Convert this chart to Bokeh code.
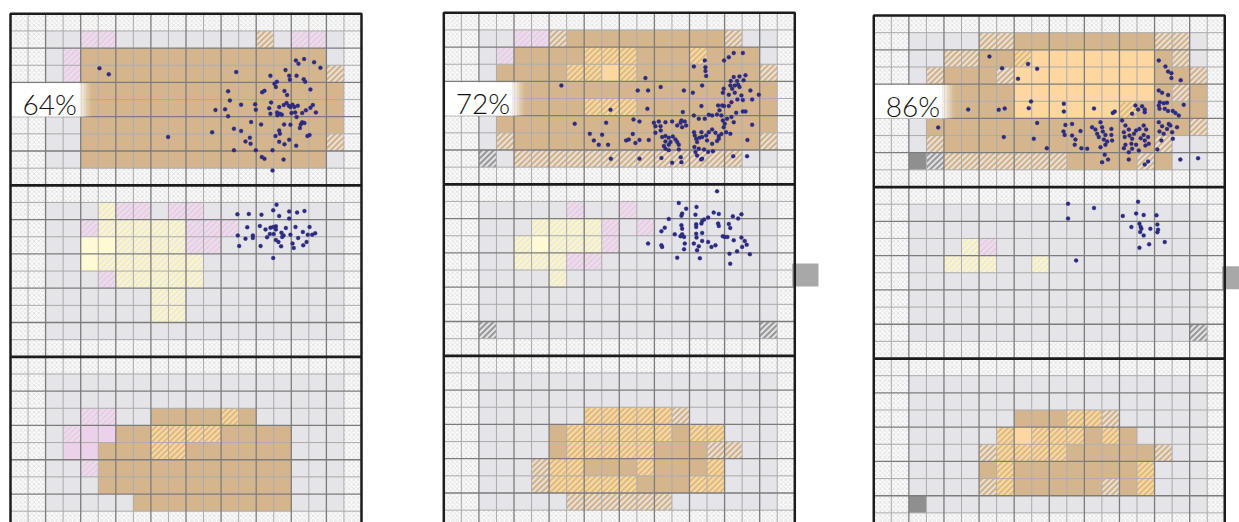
from bokeh.plotting import figure
from bokeh.models import Range1d
from bokeh.core.properties import value
from bokeh.embed import file_html
from bokeh.resources import INLINE

# ---------------------------------------------------------------------------
# Data
# ---------------------------------------------------------------------------
panel_labels = ["64%", "72%", "86%"]

# Cell classes, one string per row, 20 columns x 10 rows for each band.
#  x outside   . grey   T tan   t tan hatched   O light orange   o orange hatched
#  P pink      p pink hatched   Y yellow   y yellow hatched   G dark grey   g grey hatched
p1_band1 = [
    "xxxxxxxxxxxxxxxxxxxx",
    "xx..pp........t.pp.x",
    "xx.pTTTTTTTTTTTTTT.x",
    "xx.pTTTTTTTTTTTTTTtx",
    "xx..TTTTTTTTTTTTTTTx",
    "xx..TTTTTTTTTTTTTTTx",
    "xx..TTTTTTTTTTTTTTTx",
    "xx..TTTTTTTTTTTTTTtx",
    "xx..TTTTTTTTTTTTTT.x",
    "xxxxxxxxxxxxxxxxxxxx",
]
p1_band2 = [
    "xxxxxxxxxxxxxxxxxxxx",
    "xx...ypp.pp........x",
    "xx..pyyyyyppp......x",
    "xx..YYyyyypp.......x",
    "xx..Yyyyyyy........x",
    "xx...pyyyyy........x",
    "xx......yy.........x",
    "xx......yy.........x",
    "xx.................x",
    "xxxxxxxxxxxxxxxxxxxx",
]
p1_band3 = [
    "xxxxxxxxxxxxxxxxxxxx",
    "xx.................x",
    "xx.................x",
    "xx..pp..TTTToT.....x",
    "xx.pPPTTooooTTTT...x",
    "xx.PPTTTooTTTTTT...x",
    "xx..pTTTTTTTTTTT...x",
    "xx...TTTTTTTTTTT...x",
    "xx.....TTTTTTTTT...x",
    "xxxxxxxxxxxxxxxxxxxx",
]
p2_band1 = [
    "xxxxxxxxxxxxxxxxxxxx",
    "xx..pptTTTTTTTTTt..x",
    "xx.pTTTToooTTToTTT.x",
    "xx.TTTTooOoTTTTTTTtx",
    "xx.TTTTTTTTTTTTTTTTx",
    "xx.TTTTToooTTTTTTTTx",
    "xx.TTTTTTTTTTTTTTTTx",
    "xx.tTTTTTTTTTTTTTTtx",
    "xxg.ttttttttttttt..x",
    "xxxxxxxxxxxxxxxxxxxx",
]
p2_band2 = [
    "xxxxxxxxxxxxxxxxxxxx",
    "xx.....p..p........x",
    "xx...yyyyp.p.......x",
    "xx..yYyyyp.........x",
    "xx..yyypp..........x",
    "xx....y............x",
    "xx.................x",
    "xx.................x",
    "xxg...............gx",
    "xxxxxxxxxxxxxxxxxxxx",
]
p2_band3 = [
    "xxxxxxxxxxxxxxxxxxxx",
    "xx.................x",
    "xx.................x",
    "xx......ooooot.....x",
    "xx....TooooooToo...x",
    "xx....ToooooTTTtt..x",
    "xx...tooTTToTTTo...x",
    "xx...toooooTTToo...x",
    "xx.....tttttt......x",
    "xxxxxxxxxxxxxxxxxxxx",
]
p3_band1 = [
    "xxxxxxxxxxxxxxxxxxxx",
    "xx....ttTTTTTTTTtt.x",
    "xx..ttTToOOOOOOOTt.x",
    "xx.tTTTtOOOOOOOOTTtx",
    "xx.TTTTTOOOOOOOOTtTx",
    "xx.TTTTTOOOOOOoTTTTx",
    "xx.TTTTTTTTTTTTTTTtx",
    "xx.tTTTTTTTTTTTTt..x",
    "xxGgtttttttTTTTtT..x",
    "xxxxxxxxxxxxxxxxxxxx",
]
p3_band2 = [
    "xxxxxxxxxxxxxxxxxxxx",
    "xx.................x",
    "xx.................x",
    "xx...yp............x",
    "xx..yyy..y.........x",
    "xx.................x",
    "xx.................x",
    "xx.................x",
    "xx................gx",
    "xxxxxxxxxxxxxxxxxxxx",
]
p3_band3 = [
    "xxxxxxxxxxxxxxxxxxxx",
    "xx.................x",
    "xx.................x",
    "xx......TTToot.....x",
    "xx.....oOoooToT....x",
    "xx....tooooTTTTTt..x",
    "xx....ToTTTTTTTo...x",
    "xx....toTTTTTtTo...x",
    "xxG................x",
    "xxxxxxxxxxxxxxxxxxxx",
]

# Observation points in cell units (column, row within the band)
p1_band1_x = [5.07, 5.60, 12.86, 8.98, 11.49, 11.68, 12.40, 12.50, 13.14, 12.23, 12.40, 12.73,
              13.14, 13.39, 13.64, 13.68, 12.73, 13.71, 13.94, 13.98, 13.98, 14.32, 14.47, 14.28,
              14.34, 14.47, 14.81, 14.85, 14.74, 15.04, 15.12, 15.18, 15.61, 15.76, 15.67, 15.88,
              15.92, 15.86, 15.95, 16.26, 16.41, 16.73, 16.30, 16.71, 16.79, 17.30, 17.66, 17.09,
              15.31, 15.19, 15.35, 15.46, 15.57, 15.73, 16.07, 16.18, 16.37, 16.22, 16.01, 16.30,
              16.62, 16.83, 17.09, 17.23, 17.40, 15.59, 15.95, 15.61, 15.31, 15.88, 16.28, 16.49,
              16.54, 16.62, 16.75, 16.92, 17.04, 15.31, 15.35, 15.10, 14.93, 15.56, 14.93, 14.81,
              15.21]
p1_band1_y = [3.18, 3.53, 3.40, 7.18, 6.91, 5.61, 4.52, 5.05, 5.30, 5.57, 5.98, 6.70,
              6.83, 7.44, 7.22, 7.57, 7.96, 6.31, 5.28, 5.59, 7.96, 8.35, 8.45, 6.45,
              4.58, 4.49, 3.61, 5.17, 5.51, 4.08, 4.27, 3.96, 4.50, 4.74, 3.28, 3.61,
              3.84, 5.36, 5.44, 2.72, 2.91, 2.64, 3.61, 3.81, 3.96, 2.82, 3.15, 4.41,
              5.44, 5.75, 5.83, 5.88, 5.32, 5.20, 5.30, 5.44, 5.36, 5.75, 5.79, 6.02,
              5.79, 5.63, 5.48, 5.32, 5.75, 6.45, 6.47, 7.61, 7.46, 7.34, 7.69, 6.66,
              6.45, 6.33, 6.37, 7.13, 7.07, 6.80, 6.99, 7.13, 7.96, 8.50, 9.13, 5.83,
              5.92]

p1_band2_x = [12.93, 13.58, 14.30, 14.97, 15.16, 15.31, 15.88, 15.88, 16.33, 16.75, 13.49, 14.21,
              14.53, 14.81, 14.97, 15.12, 15.12, 15.44, 15.69, 15.95, 16.24, 16.66, 17.04, 16.94,
              17.36, 12.95, 13.39, 13.81, 13.81, 14.25, 14.62, 14.78, 15.00, 15.12, 15.27, 15.42,
              15.48, 15.56, 16.07, 16.14, 16.39, 16.68, 16.87, 17.19, 13.03, 14.97]
p1_band2_y = [1.69, 1.67, 1.71, 1.46, 1.13, 1.79, 1.52, 1.94, 1.59, 1.50, 2.45, 2.37,
              2.57, 2.47, 2.43, 2.39, 2.57, 2.76, 2.49, 2.88, 2.43, 2.72, 2.43, 2.88,
              2.80, 2.92, 3.11, 2.92, 3.07, 3.54, 3.03, 2.84, 2.84, 3.19, 3.30, 3.56,
              3.01, 2.92, 3.40, 3.65, 3.07, 3.50, 3.30, 2.88, 3.54, 4.24]

p2_band1_x = [14.87, 14.25, 14.91, 14.91, 14.95, 16.24, 16.52, 17.04, 15.97, 16.85, 17.19, 16.52,
              16.35, 16.71, 17.08, 16.33, 16.58, 16.77, 16.85, 15.95, 16.43, 15.90, 16.24, 16.58,
              16.96, 17.47, 17.95, 16.73, 17.04, 17.57, 16.39, 15.63, 15.86, 15.71, 15.97, 16.24,
              17.04, 16.66, 14.19, 14.72, 14.68, 13.68, 11.49, 11.05, 11.64, 12.36, 11.60, 9.50,
              6.70, 7.46, 9.25, 13.62, 13.54, 13.73, 13.81, 13.01, 13.49, 13.58, 13.30, 14.25,
              14.53, 14.87, 15.10, 15.29, 15.57, 15.82, 15.90, 16.01, 16.14, 16.39, 16.52, 17.19,
              17.57, 11.97, 12.25, 12.35, 12.06, 12.36, 12.63, 10.81, 11.15, 10.77, 10.39, 10.54,
              10.92, 11.15, 11.68, 12.06, 12.44, 12.63, 12.82, 13.05, 13.20, 12.63, 12.92, 13.30,
              13.39, 12.82, 12.54, 12.63, 12.82, 13.39, 14.26, 14.30, 14.38, 14.43, 14.57, 14.68,
              14.72, 14.95, 15.00, 15.10, 15.29, 15.48, 15.67, 15.82, 15.95, 16.09, 16.33, 14.28,
              14.53, 14.83, 15.06, 15.33, 15.29, 15.57, 15.67, 14.34, 14.43, 14.72, 17.30, 8.32,
              8.55, 8.83, 9.02, 9.36, 9.52, 11.15, 12.40, 13.01, 13.54, 13.50, 14.66, 16.49,
              17.28]
p2_band1_y = [2.78, 3.13, 3.17, 3.40, 3.69, 2.59, 2.35, 2.35, 2.78, 3.71, 3.65, 3.75,
              3.98, 3.98, 3.93, 4.24, 4.24, 4.20, 4.33, 4.43, 4.43, 4.66, 4.78, 4.66,
              4.82, 4.53, 4.78, 5.05, 5.09, 5.05, 5.21, 5.40, 5.40, 5.69, 5.44, 5.44,
              5.75, 5.83, 4.66, 4.24, 5.44, 4.53, 3.81, 4.53, 4.53, 4.33, 5.60, 5.66,
              4.24, 6.47, 6.41, 5.79, 6.28, 6.34, 6.57, 6.34, 6.41, 6.67, 6.57, 5.99,
              6.18, 6.18, 5.95, 5.99, 5.93, 5.99, 6.28, 6.47, 6.18, 6.08, 6.38, 5.75,
              6.53, 6.41, 6.34, 6.61, 6.61, 6.86, 6.38, 6.22, 6.34, 7.07, 7.44, 7.39,
              7.60, 7.42, 7.42, 7.00, 7.25, 7.19, 7.29, 7.21, 7.39, 7.50, 7.54, 7.54,
              7.70, 7.70, 7.77, 7.93, 8.01, 7.97, 6.96, 7.15, 7.35, 7.54, 7.29, 6.96,
              7.25, 7.15, 7.44, 6.96, 6.80, 7.00, 7.19, 7.07, 6.67, 6.96, 7.06, 7.83,
              7.93, 7.97, 8.12, 8.07, 7.64, 7.48, 7.35, 8.12, 8.32, 8.51, 7.42, 7.06,
              7.44, 7.70, 7.11, 7.70, 8.51, 8.51, 8.47, 8.75, 8.71, 8.42, 8.55, 8.36,
              8.36]

p2_band2_x = [15.57, 13.39, 13.81, 14.40, 13.58, 13.54, 14.34, 15.38, 15.67, 16.47, 16.96, 16.77,
              12.82, 14.72, 14.83, 15.06, 14.38, 14.38, 14.68, 15.63, 15.67, 16.24, 16.32, 12.59,
              12.40, 13.54, 13.58, 13.58, 13.16, 13.49, 13.69, 14.38, 14.72, 14.40, 14.25, 14.53,
              14.72, 15.06, 15.25, 15.48, 15.90, 16.01, 16.16, 16.52, 16.96, 17.15, 17.00, 17.26,
              16.71, 17.44, 11.64, 12.40, 12.44, 13.73, 13.69, 14.43, 13.30, 14.59, 16.32, 16.28]
p2_band2_y = [0.41, 1.09, 1.42, 1.32, 1.71, 1.83, 1.77, 1.65, 1.73, 1.87, 1.75, 2.00,
              2.02, 2.14, 2.06, 1.94, 2.33, 2.49, 2.29, 2.29, 2.43, 2.31, 2.55, 2.53,
              2.74, 2.39, 2.59, 2.92, 2.92, 3.03, 3.07, 2.88, 2.84, 3.11, 3.46, 3.62,
              3.30, 3.36, 3.65, 3.56, 3.03, 3.07, 3.07, 3.27, 3.11, 3.30, 3.65, 3.52,
              3.91, 4.08, 3.46, 3.56, 3.65, 3.46, 3.79, 3.85, 4.28, 4.31, 4.63, 4.05]

p3_band1_x = [6.59, 7.31, 8.79, 9.31, 8.22, 8.96, 8.83, 10.83, 10.83, 12.55, 13.62, 13.73,
              14.72, 14.91, 15.06, 15.29, 15.44, 15.44, 16.24, 16.43, 16.77, 16.30, 16.24, 16.52,
              16.71, 16.28, 16.58, 16.77, 17.04, 17.19, 17.38, 17.66, 5.38, 7.12, 7.46, 3.67,
              7.41, 9.12, 9.31, 9.86, 16.24, 16.62, 16.77, 16.96, 16.96, 17.49, 10.92, 11.30,
              10.81, 10.88, 11.30, 11.49, 11.78, 11.45, 11.83, 12.16, 12.44, 12.63, 12.92, 13.01,
              13.05, 13.20, 12.73, 12.82, 13.11, 13.30, 13.54, 13.54, 13.58, 13.20, 12.92, 13.16,
              13.01, 13.35, 14.15, 14.34, 14.53, 14.25, 14.30, 14.57, 14.72, 14.83, 14.95, 15.14,
              15.38, 15.52, 15.38, 15.21, 15.44, 15.63, 15.67, 15.48, 14.95, 14.68, 14.34, 14.25,
              14.53, 14.72, 15.10, 15.63, 15.44, 16.16, 16.24, 16.43, 16.28, 16.52, 16.71, 16.81,
              17.00, 16.90, 17.28, 16.39, 17.04, 17.47, 18.48, 14.53]
p3_band1_y = [2.39, 3.07, 2.82, 3.11, 3.69, 5.01, 5.40, 5.15, 5.60, 5.42, 5.68, 5.60,
              5.73, 5.25, 5.48, 5.29, 5.48, 5.64, 4.37, 4.51, 4.63, 5.05, 5.25, 5.11,
              5.09, 5.44, 5.44, 5.56, 5.56, 5.68, 5.83, 5.21, 5.48, 5.50, 5.42, 6.53,
              7.09, 7.19, 6.26, 7.74, 2.62, 2.97, 3.27, 3.36, 3.65, 3.77, 6.38, 6.32,
              6.76, 6.96, 7.00, 7.23, 6.74, 7.54, 7.74, 7.77, 6.51, 6.65, 6.22, 6.51,
              6.76, 6.96, 6.90, 7.09, 7.23, 7.35, 6.61, 6.96, 7.29, 7.54, 7.68, 8.12,
              8.55, 8.40, 6.12, 6.41, 6.65, 6.80, 7.09, 7.00, 7.19, 6.90, 6.71, 6.61,
              6.41, 6.65, 6.96, 7.15, 7.29, 7.09, 7.48, 7.58, 7.54, 7.48, 7.54, 7.74,
              7.97, 7.77, 7.87, 8.51, 8.69, 7.81, 6.22, 6.45, 6.76, 6.90, 6.61, 6.32,
              6.80, 6.41, 6.51, 7.29, 7.19, 8.40, 8.32, 8.40]

p3_band2_x = [11.07, 11.07, 12.55, 11.53, 15.06, 14.19, 14.95, 15.38, 16.11, 15.14, 15.21, 15.25,
              14.68, 15.76, 16.16, 16.20, 16.16, 15.18, 15.38, 15.69, 15.14, 16.58]
p3_band2_y = [0.97, 1.83, 1.22, 4.28, 0.86, 1.69, 1.54, 1.63, 1.65, 2.14, 2.33, 2.43,
              2.33, 2.43, 2.18, 2.49, 2.64, 2.62, 2.82, 3.34, 3.54, 3.21]

panels = [
    dict(bands=[p1_band1, p1_band2, p1_band3],
         points=[(p1_band1_x, p1_band1_y), (p1_band2_x, p1_band2_y)], tab=False),
    dict(bands=[p2_band1, p2_band2, p2_band3],
         points=[(p2_band1_x, p2_band1_y), (p2_band2_x, p2_band2_y)], tab=True),
    dict(bands=[p3_band1, p3_band2, p3_band3],
         points=[(p3_band1_x, p3_band1_y), (p3_band2_x, p3_band2_y)], tab=True),
]

# ---------------------------------------------------------------------------
# Layout (cell units) and styles
# ---------------------------------------------------------------------------
N_COLS, N_ROWS, BAND_ROWS = 20, 30, 10
X_OFF = [0.0, 24.69, 49.19]
Y_OFF = [0.0, -0.06, 0.10]

# base fill, and stripe colour for hatched classes
STYLES = {
    ".": ("#e4e4e9", None),
    "T": ("#d5b58e", None),
    "t": ("#e9e3dc", "#d3b38b"),
    "O": ("#fdd79f", None),
    "o": ("#d8b98f", "#fcd795"),
    "P": ("#ecd1ea", None),
    "p": ("#e6e2ea", "#edcbe7"),
    "Y": ("#fffad3", None),
    "y": ("#e9e9e2", "#fdf6c2"),
    "G": ("#8f8f8f", None),
    "g": ("#e4e4e9", "#9a9a9a"),
}


def clip_half(poly, a, b, c):
    """Keep the part of a polygon where a*u + b*v <= c."""
    out = []
    n = len(poly)
    for i in range(n):
        pu, pv = poly[i]
        qu, qv = poly[(i + 1) % n]
        fp = a * pu + b * pv - c
        fq = a * qu + b * qv - c
        if fp <= 0:
            out.append((pu, pv))
        if fp * fq < 0:
            t = fp / (fp - fq)
            out.append((pu + t * (qu - pu), pv + t * (qv - pv)))
    return out


# '/' stripes inside a unit cell: bands of (v - u), three per cell
STRIPE_STEP, STRIPE_WIDTH = 1.0 / 3.0, 0.18
UNIT_STRIPES = []
for k in range(-4, 4):
    lo = k * STRIPE_STEP + 0.05
    poly = [(0.0, 0.0), (1.0, 0.0), (1.0, 1.0), (0.0, 1.0)]
    poly = clip_half(poly, 1.0, -1.0, -lo)              # v - u >= lo
    poly = clip_half(poly, -1.0, 1.0, lo + STRIPE_WIDTH)  # v - u <= lo + w
    if len(poly) >= 3:
        UNIT_STRIPES.append(poly)

p = figure(width=1239, height=522, output_backend="svg", toolbar_location=None,
           x_range=Range1d(-0.5698, 70.03), y_range=Range1d(29.66, -0.7755),
           x_axis_location=None, y_axis_location=None, min_border=0,
           outline_line_color=None, background_fill_color="white",
           border_fill_color="white")
p.grid.visible = False

for k, panel in enumerate(panels):
    x0, y0 = X_OFF[k], Y_OFF[k]

    # outside area: fine cross hatching
    p.quad(left=[x0], right=[x0 + N_COLS], top=[y0], bottom=[y0 + N_ROWS],
           fill_color="#fbfbfb", line_color=None, hatch_pattern="diagonal_cross",
           hatch_color="#d2d2d2", hatch_scale=4.5, hatch_weight=0.6)

    # classified cells
    cells = {c: dict(left=[], right=[], top=[], bottom=[]) for c in STYLES}
    stripes = {c: dict(xs=[], ys=[]) for c in STYLES}
    for b, band in enumerate(panel["bands"]):
        for r, row in enumerate(band):
            for c, code in enumerate(row):
                if code not in cells:
                    continue
                left = x0 + c
                bottom = y0 + b * BAND_ROWS + r + 1
                cells[code]["left"].append(left)
                cells[code]["right"].append(left + 1)
                cells[code]["top"].append(bottom - 1)
                cells[code]["bottom"].append(bottom)
                if STYLES[code][1] is not None:
                    for poly in UNIT_STRIPES:
                        stripes[code]["xs"].append([left + u for u, v in poly])
                        stripes[code]["ys"].append([bottom - v for u, v in poly])
    for code, src in cells.items():
        if src["left"]:
            p.quad(line_color=None, fill_color=STYLES[code][0], **src)
        if stripes[code]["xs"]:
            p.patches(xs=stripes[code]["xs"], ys=stripes[code]["ys"],
                      fill_color=STYLES[code][1], line_color=None)

    # cell grid: every cell thin, every second cell darker
    minor_x = [x0 + i for i in range(1, N_COLS) if i % 2]
    major_x = [x0 + i for i in range(1, N_COLS) if i % 2 == 0]
    minor_y = [y0 + j for j in range(1, N_ROWS) if j % 2]
    major_y = [y0 + j for j in range(1, N_ROWS) if j % 2 == 0 and j % BAND_ROWS]
    for xs, ys, col, w in [(minor_x, minor_y, "#ababab", 1.0), (major_x, major_y, "#7c7c7c", 1.3)]:
        p.segment(x0=xs, x1=xs, y0=[y0] * len(xs), y1=[y0 + N_ROWS] * len(xs),
                  line_color=col, line_width=w)
        p.segment(x0=[x0] * len(ys), x1=[x0 + N_COLS] * len(ys), y0=ys, y1=ys,
                  line_color=col, line_width=w)

    # label plate with soft right edge
    p.quad(left=[x0], right=[x0 + 3.9], top=[y0 + 4.05], bottom=[y0 + 6.0],
           fill_color="white", line_color=None)
    fades = [0.85, 0.65, 0.45, 0.25, 0.1]
    for i, a in enumerate(fades):
        p.quad(left=[x0 + 3.9 + 0.14 * i], right=[x0 + 3.9 + 0.14 * (i + 1)],
               top=[y0 + 4.05], bottom=[y0 + 6.0], fill_color="white",
               fill_alpha=a, line_color=None)
    p.text(x=[x0 + 0.68], y=[y0 + 5.25], text=[panel_labels[k]],
           text_font=value("'Lato Light', Lato"), text_font_size="28px",
           text_color="#111111", text_baseline="middle", text_align="left")

    # observations
    for b, (px, py) in enumerate(panel["points"]):
        p.scatter(x=[x0 + v for v in px], y=[y0 + b * BAND_ROWS + v for v in py],
                  size=4, fill_color="#2b2b80", line_color="#2b2b80", line_width=0.3)

    # side handle
    if panel["tab"]:
        p.quad(left=[x0 + 19.85], right=[x0 + 21.35], top=[y0 + 14.62],
               bottom=[y0 + 15.96], fill_color="#a8a8a8", line_color=None)

    # frames
    p.quad(left=[x0], right=[x0 + N_COLS], top=[y0], bottom=[y0 + N_ROWS],
           fill_color=None, line_color="#1c1c1c", line_width=2.5)
    seps = [y0 + BAND_ROWS, y0 + 2 * BAND_ROWS]
    p.segment(x0=[x0] * 2, x1=[x0 + N_COLS] * 2, y0=seps, y1=seps,
              line_color="#1c1c1c", line_width=2.8)

open("out.html", "w").write(file_html(p, INLINE))
